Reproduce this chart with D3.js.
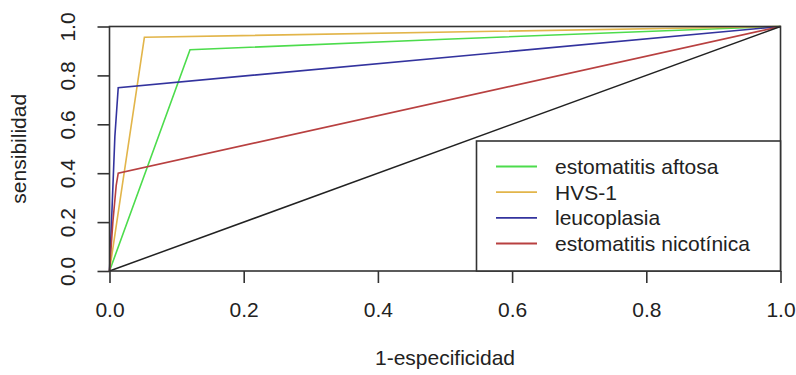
<!DOCTYPE html>
<html>
<head>
<meta charset="utf-8">
<script src="https://cdn.jsdelivr.net/npm/d3@7"></script>
<style>
  html, body { margin: 0; padding: 0; background: #fff; }
  svg { display: block; }
  text { font-family: "Liberation Sans", Arial, sans-serif; fill: #222; }
</style>
</head>
<body>
<svg id="chart" width="796" height="375"></svg>
<script>
// ---- data ----
const seriesNames = ["estomatitis aftosa", "HVS-1", "leucoplasia", "estomatitis nicotínica"];
const seriesColors = ["#4cdc4c", "#e2b54a", "#33339e", "#b84040"];
const aftosaFPR = [0, 0.12, 0.5, 0.946, 1];
const aftosaTPR = [0, 0.905, 0.948, 0.995, 1];
const hvsFPR = [0, 0.052, 1];
const hvsTPR = [0, 0.956, 1];
const leucoFPR = [0, 0.003, 0.008, 0.013, 1];
const leucoTPR = [0, 0.2, 0.55, 0.75, 1];
const nicoFPR = [0, 0.005, 0.01, 0.013, 1];
const nicoTPR = [0, 0.2, 0.35, 0.40, 1];
const diagFPR = [0, 1];
const diagTPR = [0, 1];
const xTicks = [0, 0.2, 0.4, 0.6, 0.8, 1.0];
const yTicks = [0, 0.2, 0.4, 0.6, 0.8, 1.0];
const xTitle = "1-especificidad";
const yTitle = "sensibilidad";

// ---- layout ----
const FS = "21px";
const svg = d3.select("#chart");
const L = 109.5, R = 780.5, T = 26.5, B = 271;
const x = d3.scaleLinear().domain([0, 1]).range([L, R]);
const y = d3.scaleLinear().domain([0, 1]).range([B, T]);
const fmt = d3.format(".1f");

const seriesFPR = [aftosaFPR, hvsFPR, leucoFPR, nicoFPR];
const seriesTPR = [aftosaTPR, hvsTPR, leucoTPR, nicoTPR];

const line = d3.line().x(d => x(d[0])).y(d => y(d[1]));

const gLines = svg.append("g");
seriesNames.forEach((name, i) => {
  const pts = seriesFPR[i].map((f, j) => [f, seriesTPR[i][j]]);
  gLines.append("path")
    .attr("d", line(pts))
    .attr("fill", "none")
    .attr("stroke", seriesColors[i])
    .attr("stroke-width", 1.6);
});
gLines.append("path")
  .attr("d", line(diagFPR.map((f, j) => [f, diagTPR[j]])))
  .attr("fill", "none")
  .attr("stroke", "#222")
  .attr("stroke-width", 1.5);

// box
svg.append("rect")
  .attr("x", L).attr("y", T).attr("width", R - L).attr("height", B - T)
  .attr("fill", "none").attr("stroke", "#333").attr("stroke-width", 1.6);

// x axis
const xAxis = d3.axisBottom(x).tickValues(xTicks).tickFormat(fmt).tickSize(12).tickPadding(19);
const gx = svg.append("g").attr("transform", `translate(0,${B})`).call(xAxis);
gx.select(".domain").remove();
gx.selectAll(".tick line").attr("stroke", "#333").attr("stroke-width", 1.6);
gx.selectAll(".tick text").style("font-size", FS).attr("fill", "#222")
  .style("font-family", "'Liberation Sans', Arial, sans-serif");

// y axis
const yAxis = d3.axisLeft(y).tickValues(yTicks).tickFormat(fmt).tickSize(12);
const gy = svg.append("g").attr("transform", `translate(${L},0)`).call(yAxis);
gy.select(".domain").remove();
gy.selectAll(".tick line").attr("stroke", "#333").attr("stroke-width", 1.6);
gy.selectAll(".tick text")
  .attr("x", null).attr("dy", null)
  .attr("transform", "translate(-35,0) rotate(-90)")
  .attr("text-anchor", "middle")
  .attr("fill", "#222")
  .style("font-size", FS)
  .style("font-family", "'Liberation Sans', Arial, sans-serif");

// axis titles
svg.append("text")
  .attr("x", (L + R) / 2).attr("y", 365)
  .attr("text-anchor", "middle").style("font-size", FS)
  .text(xTitle);
svg.append("text")
  .attr("transform", `translate(26,${(T + B) / 2}) rotate(-90)`)
  .attr("text-anchor", "middle").style("font-size", FS)
  .text(yTitle);

// legend
const lgX0 = 476.5, lgY0 = 141;
svg.append("rect")
  .attr("x", lgX0).attr("y", lgY0).attr("width", R - lgX0).attr("height", B - lgY0)
  .attr("fill", "#fff").attr("stroke", "#333").attr("stroke-width", 1.6);
const rowY = d3.scalePoint().domain(seriesNames).range([166.5, 243.5]);
seriesNames.forEach((name, i) => {
  svg.append("line")
    .attr("x1", 496).attr("x2", 537)
    .attr("y1", rowY(name)).attr("y2", rowY(name))
    .attr("stroke", seriesColors[i]).attr("stroke-width", 1.8);
  svg.append("text")
    .attr("x", 555).attr("y", rowY(name)).attr("dy", "0.35em")
    .style("font-size", FS)
    .text(name);
});
</script>
</body>
</html>
